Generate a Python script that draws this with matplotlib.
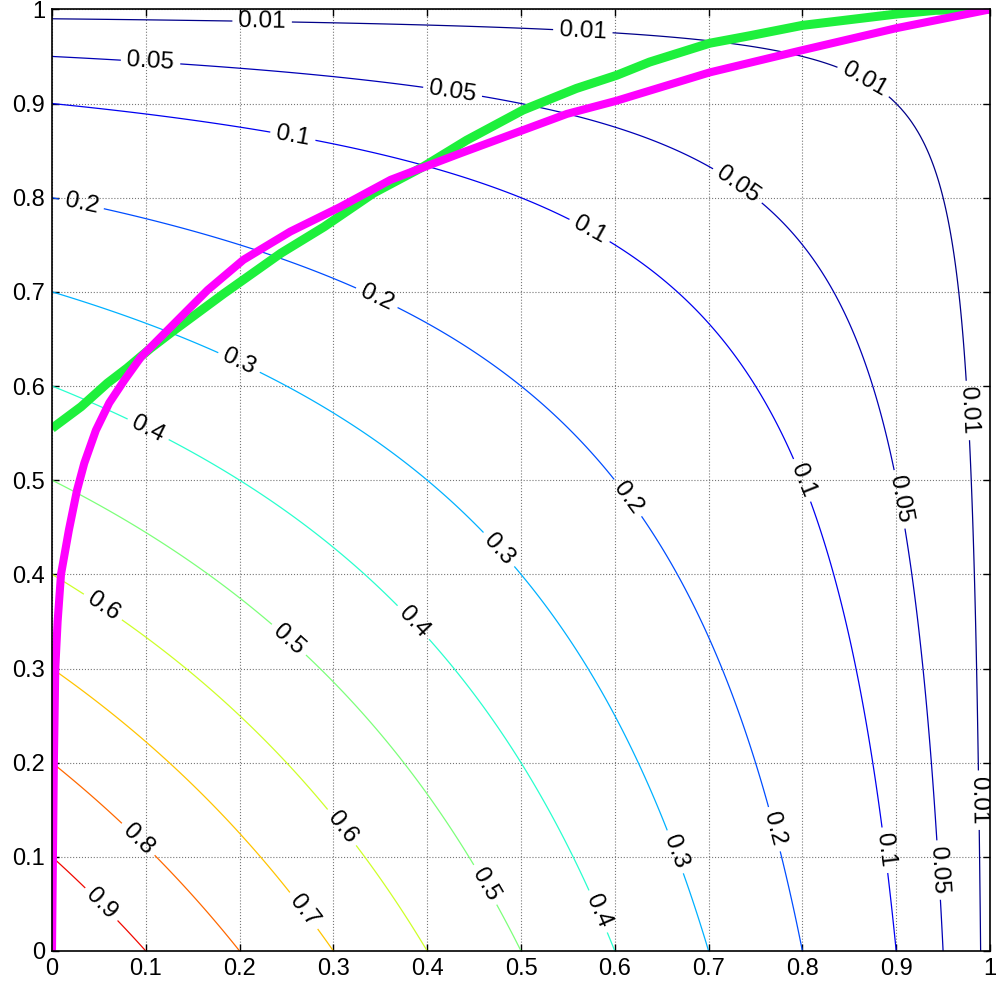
import numpy as np
import matplotlib.pyplot as plt

plt.rcParams['font.family'] = ['Liberation Sans', 'DejaVu Sans']

# contour field: joint survival of two independent uniforms on [0,1]
grid = np.linspace(0, 1, 201)
surv_x = 1 - grid
surv_y = 1 - grid
Z = np.outer(surv_y, surv_x)

levels = [0.01, 0.05, 0.1, 0.2, 0.3, 0.4, 0.5, 0.6, 0.7, 0.8, 0.9]

# green curve
green_x = [0, 0.031, 0.059, 0.080, 0.105, 0.130, 0.183, 0.244, 0.29, 0.343, 0.396, 0.442,
           0.502, 0.559, 0.602, 0.637, 0.701, 0.744, 0.80, 0.90, 0.942, 1.0]
green_y = [0.555, 0.578, 0.603, 0.619, 0.640, 0.659, 0.698, 0.741, 0.769, 0.805, 0.833, 0.861,
           0.893, 0.916, 0.930, 0.944, 0.964, 0.972, 0.983, 0.995, 0.999, 1.0]

# magenta curve
mag_x = [0, 0.001, 0.002, 0.0035, 0.006, 0.0096, 0.018, 0.0266, 0.0344, 0.0468,
         0.061, 0.077, 0.095, 0.123, 0.166, 0.204, 0.254, 0.307, 0.361, 0.435,
         0.549, 0.602, 0.701, 0.797, 0.90, 1.0]
mag_y = [0, 0.1, 0.2, 0.3, 0.35, 0.4, 0.447, 0.489, 0.518, 0.553,
         0.582, 0.606, 0.631, 0.659, 0.702, 0.734, 0.764, 0.790, 0.819, 0.847,
         0.889, 0.903, 0.933, 0.956, 0.980, 1.0]

ticks = np.round(np.arange(0, 1.01, 0.1), 1)
tick_labels = ['0', '0.1', '0.2', '0.3', '0.4', '0.5', '0.6', '0.7', '0.8', '0.9', '1']

# where the contour labels sit
label_pos = [(0.224, 0.986), (0.566, 0.978), (0.866, 0.925), (0.976, 0.574), (0.976, 0.16),
             (0.105, 0.943), (0.427, 0.912), (0.731, 0.813), (0.90, 0.479), (0.946, 0.086),
             (0.256, 0.861), (0.573, 0.765), (0.80, 0.50), (0.888, 0.107),
             (0.031, 0.792), (0.345, 0.691), (0.611, 0.479), (0.765, 0.128),
             (0.198, 0.622), (0.476, 0.426), (0.669, 0.107),
             (0.102, 0.553), (0.382, 0.346), (0.573, 0.038),
             (0.252, 0.33), (0.47, 0.075),
             (0.052, 0.362), (0.305, 0.128),
             (0.27, 0.044),
             (0.107, 0.134),
             (0.052, 0.049)]

fig = plt.figure(figsize=(10, 9.86), dpi=100)
ax = fig.add_axes([0.052, 0.0355, 0.938, 0.955])

cs = ax.contour(grid, grid, Z, levels=levels, cmap='jet', vmin=0, vmax=1, linewidths=0.9)
ax.clabel(cs, levels, inline=True, fmt='%g', fontsize=17.5, colors='black',
          manual=label_pos, inline_spacing=6)

ax.plot(green_x, green_y, color='#1ef03c', lw=6.5, solid_capstyle='butt')
ax.plot(mag_x, mag_y, color='#ff00ff', lw=5.8, solid_capstyle='butt')

ax.set_xlim(0, 1)
ax.set_ylim(0, 1)
ax.set_xticks(ticks)
ax.set_yticks(ticks)
ax.set_xticklabels(tick_labels)
ax.set_yticklabels(tick_labels)
ax.tick_params(direction='in', top=True, right=True, length=5, width=1, labelsize=17, pad=5)
ax.grid(True, linestyle=':', color='#777777', linewidth=0.8)
for s in ax.spines.values():
    s.set_linewidth(1.2)

plt.savefig('out.png')
